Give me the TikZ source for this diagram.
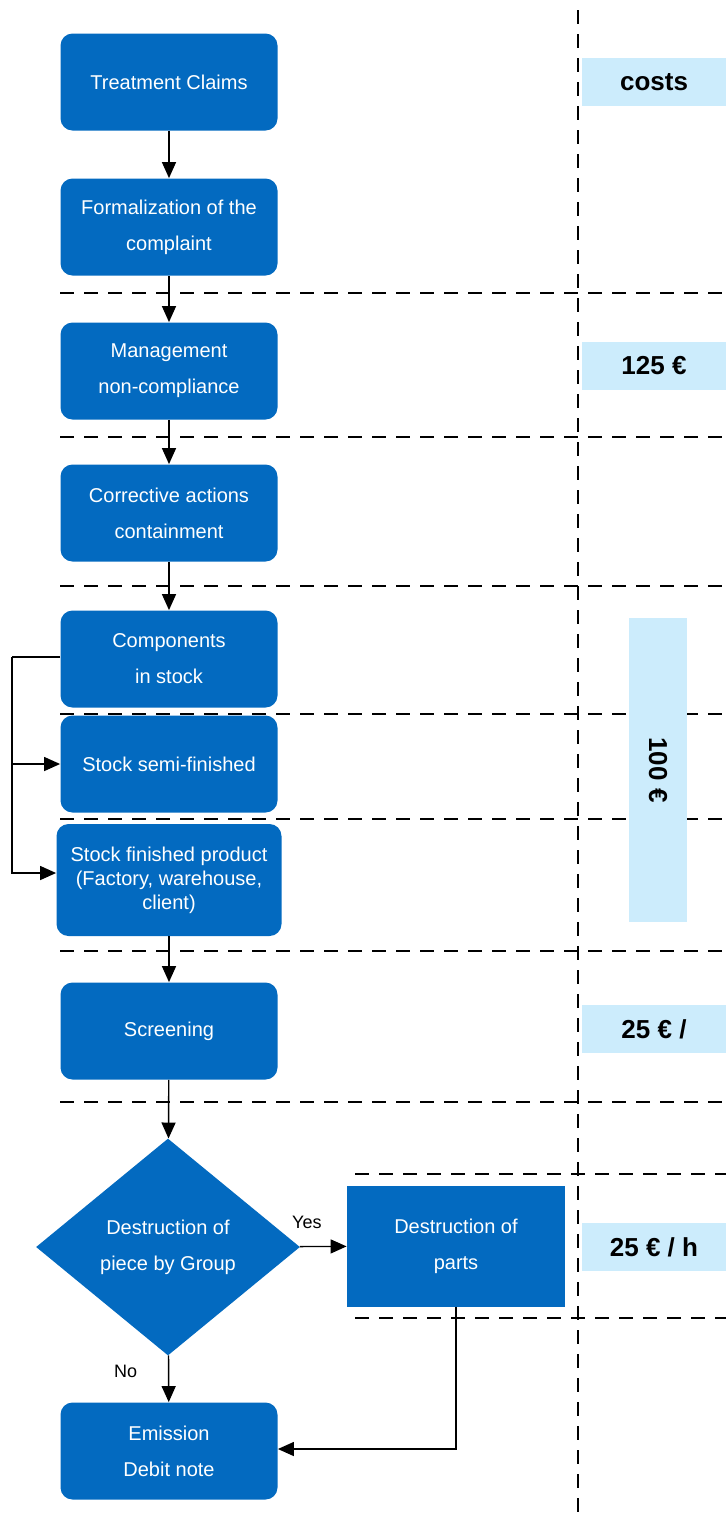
\documentclass[tikz,border=0pt]{standalone}
\usepackage{fontspec}
\setmainfont{Liberation Sans}
\usetikzlibrary{arrows.meta,shapes.geometric}
\definecolor{boxblue}{RGB}{3,106,192}
\definecolor{costblue}{RGB}{204,236,252}

\begin{document}
\begin{tikzpicture}[x=0.5pt,y=-0.5pt,
  stepbox/.style={rectangle, rounded corners=6pt, fill=boxblue, text=white, align=center,
    minimum width=108.5pt, minimum height=48.5pt, inner sep=1pt, font=\fontsize{10}{18}\selectfont},
  choice/.style={diamond, fill=boxblue, text=white, align=center, inner sep=0pt,
    minimum width=132pt, minimum height=108.5pt, font=\fontsize{10}{18}\selectfont},
  costbox/.style={rectangle, fill=costblue, minimum width=72pt, minimum height=24pt,
    font=\fontsize{13}{15}\selectfont\bfseries},
  sep/.style={line width=0.8pt, dash pattern=on 7pt off 5pt},
  flow/.style={line width=0.7pt, -{Triangle[width=7pt,length=8pt]}},
  tag/.style={font=\fontsize{9}{11}\selectfont}]
\useasboundingbox (0,0) rectangle (726,1517);

% separators
\draw[sep] (578,10) -- (578,1517);
\draw[sep] (60,293) -- (726,293);
\draw[sep] (60,437) -- (726,437);
\draw[sep] (60,586) -- (726,586);
\draw[sep] (60,714) -- (726,714);
\draw[sep] (60,819) -- (726,819);
\draw[sep] (60,951) -- (726,951);
\draw[sep] (60,1102) -- (726,1102);
\draw[sep] (355,1174) -- (726,1174);
\draw[sep] (355,1318) -- (726,1318);

% steps
\node[stepbox] (claims) at (169,82) {Treatment Claims};
\node[stepbox] (formal) at (169,227) {Formalization of the\\complaint};
\node[stepbox] (manage) at (169,371) {Management\\non-compliance};
\node[stepbox] (correct) at (169,513) {Corrective actions\\containment};
\node[stepbox] (compo) at (169,659) {Components\\in stock};
\node[stepbox] (semi) at (169,764) {Stock semi-finished};
\node[stepbox, minimum width=112.5pt, minimum height=56pt, font=\fontsize{10}{12}\selectfont] (finished) at (169,880) {Stock finished product\\(Factory, warehouse,\\client)};
\node[stepbox] (screen) at (169,1031) {Screening};
\node[choice] (decide) at (168,1247) {Destruction of\\piece by Group};
\node[stepbox, rounded corners=0pt, minimum width=109pt, minimum height=60.5pt] (destroy) at (456,1246) {Destruction of\\parts};
\node[stepbox] (debit) at (169,1451) {Emission\\Debit note};

% costs
\node[costbox] (costhead) at (654,82) {costs};
\node[costbox] (cost125) at (654,366) {125 €};
\node[costbox, minimum width=29pt, minimum height=152pt] (cost100) at (658,770) {};
\node[font=\fontsize{13}{15}\selectfont\bfseries, rotate=-90] (cost100text) at (cost100) {100 €};
\node[costbox] (cost25) at (654,1029) {25 € /};
\node[costbox] (cost25h) at (654,1247) {25 € / h};

% flow
\draw[flow] (claims) -- (formal);
\draw[flow] (formal) -- (manage);
\draw[flow] (manage) -- (correct);
\draw[flow] (correct) -- (compo);
\coordinate (loop) at (12,657);
\draw[line width=0.7pt] ([yshift=1pt]compo.west) -- (loop);
\draw[flow] (loop) |- (semi.west);
\draw[flow] (loop) |- ([yshift=3.5pt]finished.west);
\draw[flow] (finished) -- (screen);
\draw[flow] (screen) -- (decide);
\draw[flow] (decide) -- node[tag, above=5pt, pos=0.15] {Yes} (destroy);
\draw[flow] (decide) -- node[tag, left=12pt, pos=0.35] {No} (debit);
\draw[flow] (destroy.south) |- ([yshift=1pt]debit.east);
\end{tikzpicture}
\end{document}
